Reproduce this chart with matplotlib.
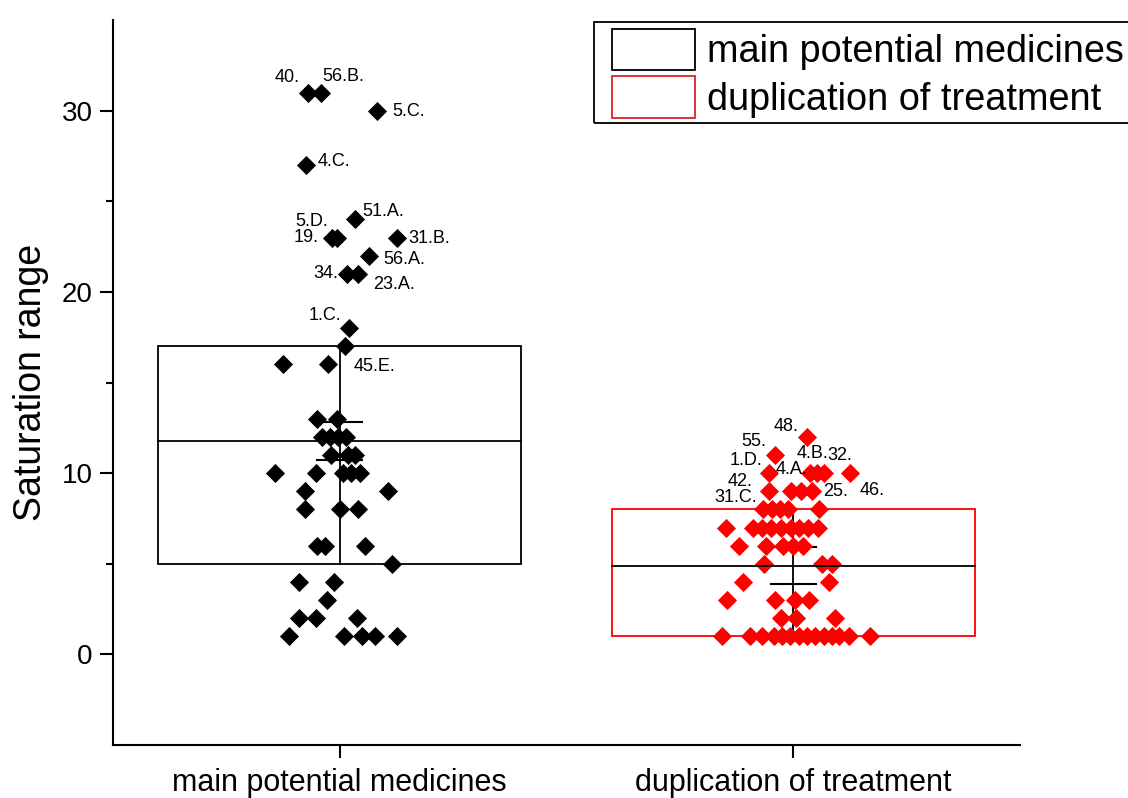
import matplotlib
matplotlib.use("Agg")
import matplotlib.pyplot as plt
from matplotlib.patches import Rectangle, Patch
import numpy as np

plt.rcParams['font.family'] = ['Liberation Sans', 'DejaVu Sans']

# ---------------- data ----------------
categories = ["main potential medicines", "duplication of treatment"]

main_values = [31, 31, 30, 27, 24, 23, 23, 23, 22, 21, 21, 18, 17, 16, 16,
               13, 13, 12, 12, 12, 12, 11, 11, 11, 10, 10, 10, 10, 10,
               9, 9, 8, 8, 8, 6, 6, 6, 5, 4, 4, 3, 2, 2, 2, 1, 1, 1, 1, 1]
main_jitter = [-0.071, -0.042, 0.082, -0.075, 0.033, -0.018, -0.007, 0.126, 0.064, 0.015, 0.040,
               0.020, 0.011, -0.126, -0.026,
               -0.051, -0.007, -0.040, -0.022, -0.004, 0.013, -0.020, 0.018, 0.033,
               -0.143, -0.053, 0.007, 0.024, 0.044,
               -0.077, 0.106, -0.077, 0.0, 0.040, -0.051, -0.033, 0.055, 0.115,
               -0.090, -0.013, -0.029, -0.090, -0.053, 0.037,
               -0.112, 0.009, 0.049, 0.077, 0.126]

dup_values = [12, 11, 10, 10, 10, 10, 10, 9, 9, 9, 9,
              8, 8, 8, 8, 8,
              7, 7, 7, 7, 7, 7, 7, 7, 7,
              6, 6, 6, 6, 6, 5, 5, 5, 4, 4, 3, 3, 3, 3, 2, 2, 2,
              1, 1, 1, 1, 1, 1, 1, 1, 1, 1, 1, 1, 1, 1]
dup_jitter = [0.031, -0.040, -0.053, 0.037, 0.053, 0.068, 0.126, -0.053, -0.004, 0.018, 0.042,
              -0.066, -0.046, -0.029, -0.011, 0.057,
              -0.148, -0.088, -0.068, -0.049, -0.026, -0.004, 0.013, 0.033, 0.055,
              -0.119, -0.060, -0.022, 0.0, 0.022, -0.064, 0.064, 0.086, -0.110, 0.079,
              -0.146, -0.040, 0.004, 0.035, -0.026, 0.007, 0.093,
              -0.157, -0.095, -0.068, -0.042, -0.024, -0.007, 0.013, 0.031, 0.049, 0.068,
              0.086, 0.101, 0.123, 0.170]

# box statistics
box_low = [5, 1]
box_high = [17, 8]
box_mean = [11.8, 4.85]
err_low = [10.75, 3.86]
err_high = [12.8, 5.9]

# point labels: text, index of point in its group
main_labels = ["40.", "56.B.", "5.C.", "4.C.", "51.A.", "5.D.", "19.", "31.B.", "56.A.", "34.", "23.A.", "1.C.", "45.E."]
main_label_idx = [0, 1, 2, 3, 4, 5, 5, 7, 8, 9, 10, 11, 12]
main_label_off = [(-20, 15), (23, 16), (32, -1), (28, 4), (28, 8), (-20, 16), (-25, 0),
                  (32, -1), (35, -4), (-21, 0), (36, -11), (-24, 13), (30, -20)]

dup_labels = ["48.", "55.", "1.D.", "4.A.", "4.B.", "32.", "46.", "42.", "25.", "31.C."]
dup_label_idx = [0, 1, 2, 3, 4, 5, 6, 7, 10, 11]
dup_label_off = [(-21, 10), (-21, 13), (-23, 13), (-19, 4), (-5, 20), (16, 18), (22, -17),
                 (-29, 10), (23, 0), (-28, 12)]

colors = ["#000000", "#ff0000"]

# ---------------- figure ----------------
DPI = 100
W, H = 1128, 798
fig = plt.figure(figsize=(W / DPI, H / DPI), dpi=DPI)
ax = fig.add_axes([113 / W, 1 - 745 / H, (1020 - 113) / W, (745 - 20) / H])

ax.set_xlim(0.5, 2.5)
ax.set_ylim(-5, 35)

box_w = 0.8
cap_w = 0.05
px2pt = 72.0 / DPI

groups = [(main_values, main_jitter), (dup_values, dup_jitter)]
for i, (vals, jit) in enumerate(groups):
    c = i + 1
    # box
    ax.add_patch(Rectangle((c - box_w / 2, box_low[i]), box_w, box_high[i] - box_low[i],
                           fill=False, edgecolor=colors[i], linewidth=1.3, zorder=4))
    # mean line
    ax.plot([c - box_w / 2, c + box_w / 2], [box_mean[i]] * 2, color="black", lw=1.3, zorder=4)
    # center stem and caps (below markers)
    ax.plot([c, c], [box_low[i], box_high[i]], color="black", lw=1.3, zorder=2)
    ax.plot([c - cap_w, c + cap_w], [err_low[i]] * 2, color="black", lw=1.5, zorder=2)
    ax.plot([c - cap_w, c + cap_w], [err_high[i]] * 2, color="black", lw=1.5, zorder=2)
    # points
    xs = c + np.array(jit)
    ax.scatter(xs, vals, marker="D", s=95, color=colors[i], linewidths=0, zorder=3)

for labels, idx, offs, (vals, jit), c in [
    (main_labels, main_label_idx, main_label_off, groups[0], 1),
    (dup_labels, dup_label_idx, dup_label_off, groups[1], 2),
]:
    for t, k, (dx, dy) in zip(labels, idx, offs):
        ax.annotate(t, xy=(c + jit[k], vals[k]), xytext=(dx * px2pt, dy * px2pt),
                    textcoords="offset points", ha="center", va="center",
                    fontsize=13, color="black", zorder=5)

# axes styling
for s in ["top", "right"]:
    ax.spines[s].set_visible(False)
for s in ["left", "bottom"]:
    ax.spines[s].set_linewidth(1.5)

ax.set_xticks([1, 2])
ax.set_xticklabels(categories, fontsize=22)
ax.set_yticks([0, 10, 20, 30])
ax.set_yticks([5, 15, 25], minor=True)
ax.tick_params(axis="both", which="major", direction="out", length=9.5, width=1.5, labelsize=20)
ax.tick_params(axis="x", which="major", pad=7, labelsize=22)
ax.tick_params(axis="y", which="major", pad=5)
ax.tick_params(axis="y", which="minor", direction="out", length=5, width=1.5)

ax.set_ylabel("Saturation range", fontsize=27)
ax.yaxis.set_label_coords(-0.071, 0.5)

# legend: entries without frame, frame drawn as a separate rectangle
handles = [Patch(facecolor="white", edgecolor="black", linewidth=1.3),
           Patch(facecolor="white", edgecolor="#e02020", linewidth=1.3)]
leg = fig.legend(handles, ["main potential medicines", "duplication of treatment"],
                 loc="upper left", bbox_to_anchor=(612 / W, 1 - 29 / H),
                 fontsize=27.3, frameon=False, borderpad=0, handlelength=2.2,
                 handleheight=1.3, handletextpad=0.3, labelspacing=0.16, borderaxespad=0)
fig.patches.append(Rectangle((594 / W, 1 - 123 / H), (W + 5 - 594) / W, (123 - 22) / H,
                             transform=fig.transFigure, fill=False, edgecolor="black",
                             linewidth=1.3, zorder=1))

fig.savefig("out.png", dpi=DPI)
